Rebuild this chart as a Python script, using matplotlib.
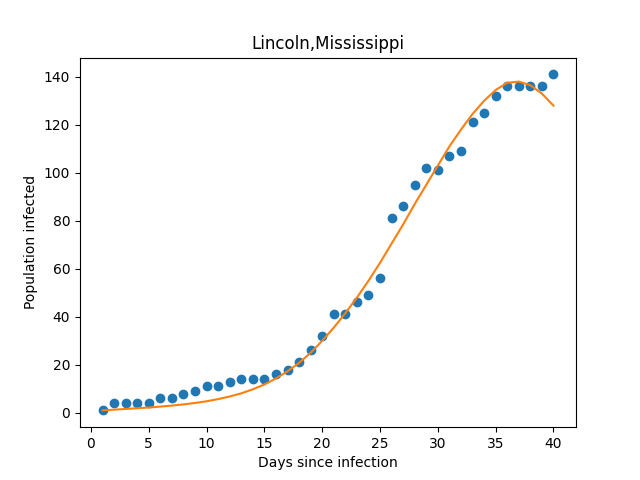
import matplotlib
matplotlib.use('Agg')
import matplotlib.pyplot as plt

days = list(range(1, 41))
infected = [1, 4, 4, 4, 4, 6, 6, 8, 9, 11, 11, 13, 14, 14, 14, 16, 18, 21, 26, 32,
            41, 41, 46, 49, 56, 81, 86, 95, 102, 101, 107, 109, 121, 125, 132, 136, 136, 136, 136, 141]
fitted = [1, 1.3, 1.6, 1.9, 2.2, 2.6, 3.0, 3.5, 4.1, 4.8, 5.7, 6.8, 8.1, 9.8, 11.8, 14.3,
          17.3, 20.8, 25, 30, 35.5, 41.5, 48, 55, 62.5, 70.5, 78.5, 87, 95, 103, 111, 118,
          124.5, 130, 134.5, 137.5, 138, 136.5, 133, 128]

fig, ax = plt.subplots(figsize=(6.4, 4.8), dpi=100)
ax.plot(days, infected, 'o')
ax.plot(days, fitted)
ax.set_title('Lincoln,Mississippi')
ax.set_xlabel('Days since infection')
ax.set_ylabel('Population infected')
plt.savefig('out.png')
